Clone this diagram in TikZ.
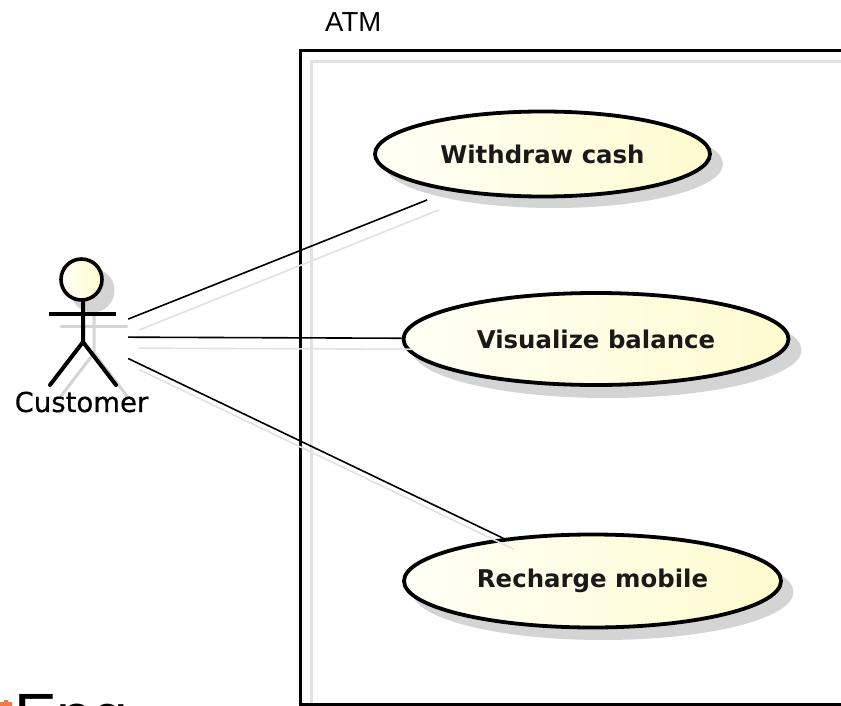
\documentclass[tikz,border=0pt]{standalone}
\usepackage{fontspec}
\setmainfont{DejaVu Sans}
\newfontfamily\atmfont{Liberation Sans}
\newfontfamily\actorfont[FakeBold=0.5]{DejaVu Sans}
\usetikzlibrary{shapes.geometric}
\definecolor{ucleft}{HTML}{FFFFF6}
\definecolor{ucright}{HTML}{FEFBCF}
\definecolor{shadowgray}{HTML}{D4D4D4}
\definecolor{lineshadow}{HTML}{E2E2E2}
\definecolor{logoorange}{HTML}{F47A45}
\tikzset{
  usecase/.style={ellipse,draw=black,line width=3.8pt,inner sep=0pt,left color=ucleft,right color=ucright,font=\fontsize{24.4}{26}\selectfont\bfseries,text=black!90},
  ucshadow/.style={ellipse,fill=shadowgray,inner sep=0pt},
  hidden/.style={rectangle,inner sep=0pt,minimum width=90pt,minimum height=100pt},
  assoc/.style={draw=black,line width=1.6pt},
  assocshadow/.style={draw=lineshadow,line width=1.6pt},
  stick/.style={line width=4pt,draw=black,line cap=round},
  stickshadow/.style={line width=3pt,draw=shadowgray,line cap=round},
  frameline/.style={draw=black,line width=3pt},
  frameshadow/.style={draw=lineshadow,line width=3pt},
}
\begin{document}
\begin{tikzpicture}[x=1pt,y=-1pt]
\useasboundingbox (0,0) rectangle (841,706);
\clip (0,0) rectangle (841,706);
\fill[white] (0,0) rectangle (841,706);
% logo fragment
\fill[logoorange] (0,702) -- (4,702) -- (4,700) -- (8,700) -- (8,702) -- (12,702) -- (12,706) -- (0,706) -- cycle;
\node[anchor=base west,inner sep=0pt,font=\atmfont\fontsize{64}{64}\selectfont,text=black] (logo) at (14,738) {Eng};
% system frame
\draw[frameshadow] (311,704) -- (311,62) -- (860,62);
\draw[frameline] (860,51) -- (300.5,51) -- (300.5,704.5) -- (860,704.5);
\node[anchor=base west,inner sep=0pt,font=\atmfont\fontsize{27.5}{28}\selectfont,text=black] (atm) at (325,32) {ATM};
% shadows of use cases
\node[ucshadow,minimum width=339pt,minimum height=88pt] (s1) at (553.5,164) {};
\node[ucshadow,minimum width=389pt,minimum height=96pt] (s2) at (607,350) {};
\node[ucshadow,minimum width=381pt,minimum height=96pt] (s3) at (603,592) {};
% use cases
\node[usecase,minimum width=335pt,minimum height=85pt] (uc1) at (542.5,154) {Withdraw cash};
\node[usecase,minimum width=385pt,minimum height=92pt] (uc2) at (596,339) {Visualize balance};
\node[usecase,minimum width=377pt,minimum height=93pt] (uc3) at (592.5,581) {\raisebox{-3pt}{Recharge mobile}};
% actor
\node[hidden] (actor) at (83,337) {};
\node[hidden] (actorS) at (94,348) {};
\begin{scope}[shift={(11,11)}]
  \draw[stickshadow] (50,315) -- (116,315);
  \draw[stickshadow] (83,302) -- (83,342) (50,385) -- (83,342) -- (116,385);
  \fill[shadowgray] (81.5,279.5) circle (22);
\end{scope}
\draw[stick] (83,302) -- (83,342) (50,385) -- (83,342) -- (116,385);
\draw[stick,line cap=butt] (49,314) -- (116,314);
\draw[line width=3.6pt,draw=black,left color=ucleft,right color=ucright] (81.5,279.5) circle (20.5);
\node[anchor=base,inner sep=0pt,font=\actorfont\fontsize{27.5}{28}\selectfont,text=black] (customer) at (81.5,412) {Customer};
% association shadows
\draw[assocshadow,shorten >=24pt] (actorS) -- (s1);
\draw[assocshadow] (actorS) -- (s2);
\draw[assocshadow] (actorS) -- (s3);
% associations
\draw[assoc,shorten >=24pt] (actor) -- (uc1);
\draw[assoc] (actor) -- (uc2);
\draw[assoc] (actor) -- (uc3);
\end{tikzpicture}
\end{document}
